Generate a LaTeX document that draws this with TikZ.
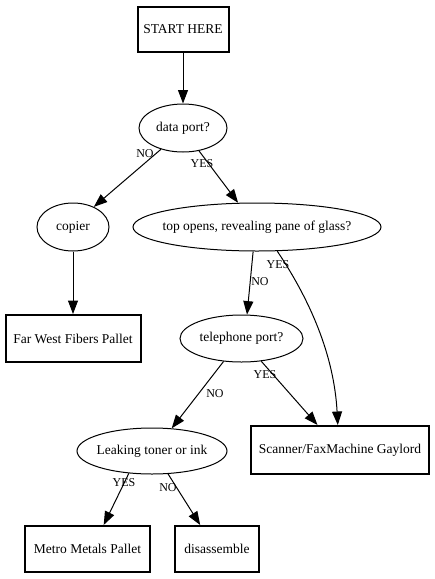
\documentclass[tikz,border=0pt]{standalone}
\usepackage{fontspec}
\setmainfont{Liberation Serif}
\usetikzlibrary{arrows.meta,shapes.geometric}
\begin{document}
\begin{tikzpicture}[x=1pt,y=-1pt,
  box/.style={draw,line width=2pt,rectangle,inner sep=0pt,font=\fontsize{13.5}{15}\selectfont},
  decision/.style={draw,line width=1pt,ellipse,inner sep=0pt,font=\fontsize{13.5}{15}\selectfont},
  edge/.style={line width=1pt,-{Triangle[length=13.5pt,width=10pt]}},
  lbl/.style={font=\fontsize{12}{14}\selectfont,inner sep=0pt}]
\useasboundingbox (0,0) rectangle (435,579);
\node[box,minimum width=91,minimum height=45] (start) at (183,29) {START HERE};
\node[decision,minimum width=88,minimum height=48] (data) at (183,128) {\makebox[0pt]{data port?}};
\node[decision,minimum width=72,minimum height=48] (copier) at (73,227) {\makebox[0pt]{copier}};
\node[decision,minimum width=248,minimum height=48] (top) at (257,227) {\makebox[0pt]{top opens, revealing pane of glass?}};
\node[box,minimum width=135,minimum height=47] (farwest) at (73,338.5) {Far West Fibers Pallet};
\node[decision,minimum width=123,minimum height=47] (tel) at (241.5,338.5) {\makebox[0pt]{telephone port?}};
\node[decision,minimum width=150,minimum height=46] (leak) at (152,451) {\makebox[0pt]{Leaking toner or ink}};
\node[box,minimum width=178,minimum height=48] (scan) at (340,450) {Scanner/FaxMachine Gaylord};
\node[box,minimum width=125,minimum height=46] (metro) at (87.5,549) {Metro Metals Pallet};
\node[box,minimum width=84,minimum height=46] (dis) at (217,549) {disassemble};

\draw[edge] (start.south) -- (data.north);
\draw[edge] (data.-136) -- (copier.44);
\draw[edge] (data.-55) -- (top.128);
\draw[edge] (copier.south) -- (farwest.north);
\draw[edge] (top.-99.5) -- (tel.77.7);
\draw[edge] (top.-50) .. controls (310,300) and (334,355) .. (scan.95);
\draw[edge] (tel.-128) -- (leak.49);
\draw[edge] (tel.-49) -- (scan.132.6);
\draw[edge] (leak.-136) -- (metro.56);
\draw[edge] (leak.-55) -- (dis.125);

\node[lbl] (l1) at (145,154) {NO};
\node[lbl] (l2) at (202,164) {YES};
\node[lbl] (l3) at (260,282) {NO};
\node[lbl] (l4) at (278,265) {YES};
\node[lbl] (l5) at (265,375) {YES};
\node[lbl] (l6) at (215,394) {NO};
\node[lbl] (l7) at (124,483) {YES};
\node[lbl] (l8) at (168,488) {NO};
\end{tikzpicture}
\end{document}
